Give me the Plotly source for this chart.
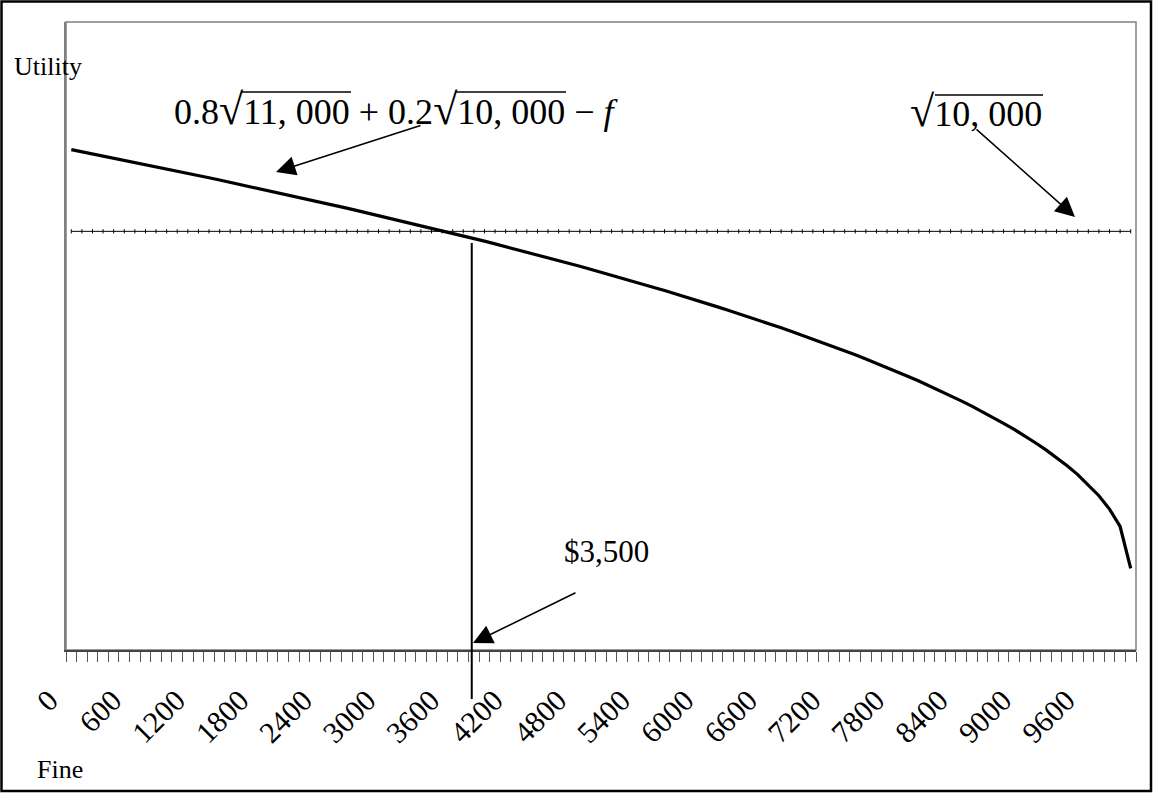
import plotly.graph_objects as go

# ---------------- data ----------------
FINE = [0, 100, 200, 300, 400, 500, 600, 700, 800, 900,
        1000, 1100, 1200, 1300, 1400, 1500, 1600, 1700, 1800, 1900,
        2000, 2100, 2200, 2300, 2400, 2500, 2600, 2700, 2800, 2900,
        3000, 3100, 3200, 3300, 3400, 3500, 3600, 3700, 3800, 3900,
        4000, 4100, 4200, 4300, 4400, 4500, 4600, 4700, 4800, 4900,
        5000, 5100, 5200, 5300, 5400, 5500, 5600, 5700, 5800, 5900,
        6000, 6100, 6200, 6300, 6400, 6500, 6600, 6700, 6800, 6900,
        7000, 7100, 7200, 7300, 7400, 7500, 7600, 7700, 7800, 7900,
        8000, 8100, 8200, 8300, 8400, 8500, 8600, 8700, 8800, 8900,
        9000, 9100, 9200, 9300, 9400, 9500, 9600, 9700, 9800, 9900,
        10000]

UTILITY_RISKY = [103.90, 103.80, 103.70, 103.60, 103.50, 103.40, 103.30, 103.19, 103.09, 102.98,
                 102.88, 102.77, 102.67, 102.56, 102.45, 102.34, 102.23, 102.13, 102.02, 101.90,
                 101.79, 101.68, 101.57, 101.46, 101.34, 101.23, 101.11, 100.99, 100.87, 100.76,
                 100.64, 100.52, 100.40, 100.28, 100.15, 100.03, 99.90, 99.78, 99.65, 99.53,
                 99.40, 99.27, 99.14, 99.00, 98.87, 98.74, 98.60, 98.47, 98.33, 98.19,
                 98.05, 97.90, 97.76, 97.62, 97.47, 97.32, 97.17, 97.02, 96.87, 96.71,
                 96.55, 96.39, 96.23, 96.07, 95.90, 95.74, 95.57, 95.39, 95.22, 95.04,
                 94.86, 94.68, 94.49, 94.30, 94.10, 93.90, 93.70, 93.50, 93.29, 93.07,
                 92.85, 92.62, 92.39, 92.15, 91.90, 91.65, 91.39, 91.12, 90.83, 90.54,
                 90.23, 89.90, 89.56, 89.20, 88.80, 88.38, 87.90, 87.37, 86.73, 85.90,
                 83.90]

UTILITY_SAFE_LEVEL = 100.0          # sqrt(10,000)
UTILITY_SAFE = [UTILITY_SAFE_LEVEL for _ in FINE]

TICK_VALUES = [0, 600, 1200, 1800, 2400, 3000, 3600, 4200, 4800,
               5400, 6000, 6600, 7200, 7800, 8400, 9000, 9600]
TICK_LABELS = ["0", "600", "1200", "1800", "2400", "3000", "3600", "4200", "4800",
               "5400", "6000", "6600", "7200", "7800", "8400", "9000", "9600"]

FINE_MARK = 3780          # where the vertical marker line is drawn

# ---------------- layout helpers ----------------
W, H = 1155, 793
PL, PR, PT, PB = 66, 1136, 22, 650   # plot area in pixels


def px(x):
    return (x - PL) / (PR - PL)


def py(y):
    return (PB - y) / (PB - PT)


FONT = "Liberation Serif, Times New Roman, serif"
RAD = "<span style='font-size:44px'>√</span>"

fig = go.Figure()

fig.add_trace(go.Scatter(
    x=FINE, y=UTILITY_SAFE, mode="lines+markers",
    line=dict(color="black", width=1),
    marker=dict(symbol="line-ns", size=3, line=dict(color="black", width=1)),
    hoverinfo="skip", showlegend=False,
))
fig.add_trace(go.Scatter(
    x=FINE, y=UTILITY_RISKY, mode="lines",
    line=dict(color="black", width=3.2),
    showlegend=False,
))

shapes = [
    # plot area border (gray)
    dict(type="rect", xref="paper", yref="paper", x0=0, x1=1, y0=0, y1=1,
         line=dict(color="#808080", width=1.5), layer="below"),
    # outer frame
    dict(type="rect", xref="paper", yref="paper",
         x0=px(1.5), x1=px(1151), y0=py(791), y1=py(1.5),
         line=dict(color="black", width=2.5)),
    # vertical marker line
    dict(type="line", xref="x", yref="paper", x0=FINE_MARK, x1=FINE_MARK,
         y0=py(243), y1=py(699), line=dict(color="black", width=2)),
    # radical overbars
    dict(type="line", xref="paper", yref="paper", x0=px(241), x1=px(351),
         y0=py(92), y1=py(92), line=dict(color="black", width=1.3)),
    dict(type="line", xref="paper", yref="paper", x0=px(455), x1=px(566),
         y0=py(92), y1=py(92), line=dict(color="black", width=1.3)),
    dict(type="line", xref="paper", yref="paper", x0=px(935), x1=px(1043),
         y0=py(95), y1=py(95), line=dict(color="black", width=1.3)),
]

annotations = [
    dict(text="Utility", x=px(12), y=py(66), xref="paper", yref="paper",
         xanchor="left", yanchor="middle", showarrow=False,
         font=dict(family=FONT, size=26, color="black")),
    dict(text="Fine", x=px(35), y=py(769), xref="paper", yref="paper",
         xanchor="left", yanchor="middle", showarrow=False,
         font=dict(family=FONT, size=26, color="black")),
    dict(text="0.8" + RAD + "11, 000 + 0.2" + RAD + "10, 000 − <i>f</i>",
         x=px(172), y=py(109),
         xref="paper", yref="paper", xanchor="left", yanchor="middle",
         showarrow=False, font=dict(family=FONT, size=36, color="black")),
    dict(text=RAD + "10, 000", x=px(908), y=py(112), xref="paper", yref="paper",
         xanchor="left", yanchor="middle", showarrow=False,
         font=dict(family=FONT, size=36, color="black")),
    dict(text="$3,500", x=px(562), y=py(551), xref="paper", yref="paper",
         xanchor="left", yanchor="middle", showarrow=False,
         font=dict(family=FONT, size=31, color="black")),
    # arrows
    dict(text="", x=px(276), y=py(172), xref="paper", yref="paper",
         ax=146, ay=-47, showarrow=True, arrowhead=2, arrowsize=2.6,
         arrowwidth=1.5, arrowcolor="black", standoff=0),
    dict(text="", x=px(1075), y=py(217), xref="paper", yref="paper",
         ax=-100, ay=-89, showarrow=True, arrowhead=2, arrowsize=2.6,
         arrowwidth=1.5, arrowcolor="black", standoff=0),
    dict(text="", x=px(473), y=py(643), xref="paper", yref="paper",
         ax=104, ay=-51, showarrow=True, arrowhead=2, arrowsize=2.6,
         arrowwidth=1.5, arrowcolor="black", standoff=0),
]

fig.update_layout(
    width=W, height=H,
    margin=dict(l=PL, r=W - PR, t=PT, b=H - PB, pad=0),
    paper_bgcolor="white", plot_bgcolor="white",
    font=dict(family=FONT, size=25, color="black"),
    shapes=shapes, annotations=annotations,
    showlegend=False,
)

fig.update_xaxes(
    range=[-50, 10050], showgrid=False, zeroline=False,
    tickmode="array", tickvals=TICK_VALUES, ticktext=TICK_LABELS,
    tickangle=-45, ticks="", tickfont=dict(family=FONT, size=30, color="black"),
    ticklabelstandoff=19, ticklabelshift=-22,
    showline=True, linecolor="#444444", linewidth=1.5,
    minor=dict(ticks="outside", tickmode="linear", tick0=-50, dtick=100,
               ticklen=10, tickwidth=1.2, tickcolor="#555555", showgrid=False),
)
fig.update_yaxes(
    range=[80, 110], showgrid=False, zeroline=False, showticklabels=False,
    ticks="", showline=True, linecolor="#808080", linewidth=1.5,
)

fig.write_html("out.html", config={"displayModeBar": False},
               post_script="document.body.style.margin='0';")
